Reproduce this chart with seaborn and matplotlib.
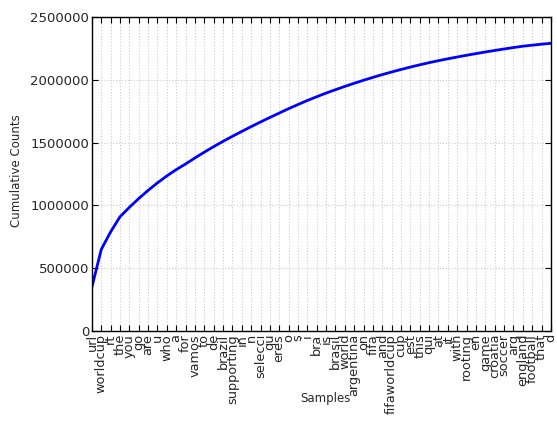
"""
Cumulative frequency of the 50 most common tokens in World Cup tweets (FreqDist-style plot).
"""

import pandas as pd
import matplotlib
matplotlib.use("Agg")
import matplotlib.pyplot as plt
import seaborn as sns

# tokens, in order of frequency
samples = ['url', 'worldcup', 'rt', 'the', 'you', 'go', 'are', 'u', 'who', 'a',
           'for', 'vamos', 'to', 'de', 'brazil', 'supporting', 'in', 'n', 'selecci', 'qu',
           'eres', 'o', 's', 'i', 'bra', 'is', 'brasil', 'world', 'argentina', 'on',
           'fifa', 'and', 'fifaworldcup', 'cup', 'est', 'this', 'qui', 'at', 'it', 'with',
           'rooting', 'en', 'game', 'croatia', 'soccer', 'arg', 'england', 'football', 'that', 'd']

# cumulative counts
cumulative = [350000, 650000, 790000, 910000, 985000, 1055000, 1120000, 1180000, 1235000, 1285000,
              1330000, 1378000, 1424000, 1468000, 1510000, 1550000, 1589000, 1627000, 1664000, 1700000,
              1735000, 1770000, 1803000, 1835000, 1865000, 1894000, 1921000, 1947000, 1972000, 1996000,
              2019000, 2041000, 2062000, 2082000, 2101000, 2119000, 2136000, 2152000, 2167000, 2181000,
              2195000, 2208000, 2221000, 2233000, 2245000, 2256000, 2267000, 2275000, 2283000, 2290000]

df = pd.DataFrame({'pos': range(len(samples)), 'count': cumulative})

sns.set_theme(style="white")
plt.rcParams['font.family'] = ['DejaVu Sans']

fig = plt.figure(figsize=(5.57, 4.34), dpi=100)
ax = fig.add_axes([0.165, 0.237, 0.824, 0.724])

sns.lineplot(data=df, x='pos', y='count', color='blue', linewidth=2, ax=ax)

ax.set_xlim(0, len(samples) - 1)
ax.set_ylim(0, 2500000)
ax.set_xticks(range(len(samples)))
ax.set_xticklabels(samples, rotation=90, fontsize=9.3)
yt = list(range(0, 2500001, 500000))
ax.set_yticks(yt)
ax.set_yticklabels([str(v) for v in yt], fontsize=9.5)

# old-style matplotlib look: inward ticks on all sides, dotted grid
ax.tick_params(direction='in', top=True, right=True, length=4, width=0.8,
               color='black', pad=2, bottom=True, left=True)
ax.grid(True, linestyle=':', color='#cccccc', linewidth=0.8)
for sp in ax.spines.values():
    sp.set_color('black')
    sp.set_linewidth(1)

# axis labels sit at fixed spots, like the old FreqDist plot
ax.set_xlabel("Samples", fontsize=8.5)
ax.set_ylabel("Cumulative Counts", fontsize=8.5)
ax.xaxis.set_label_coords(0.508, -0.194)
ax.yaxis.set_label_coords(-0.151, 0.51)

fig.savefig("out.png", dpi=100, facecolor='white')
